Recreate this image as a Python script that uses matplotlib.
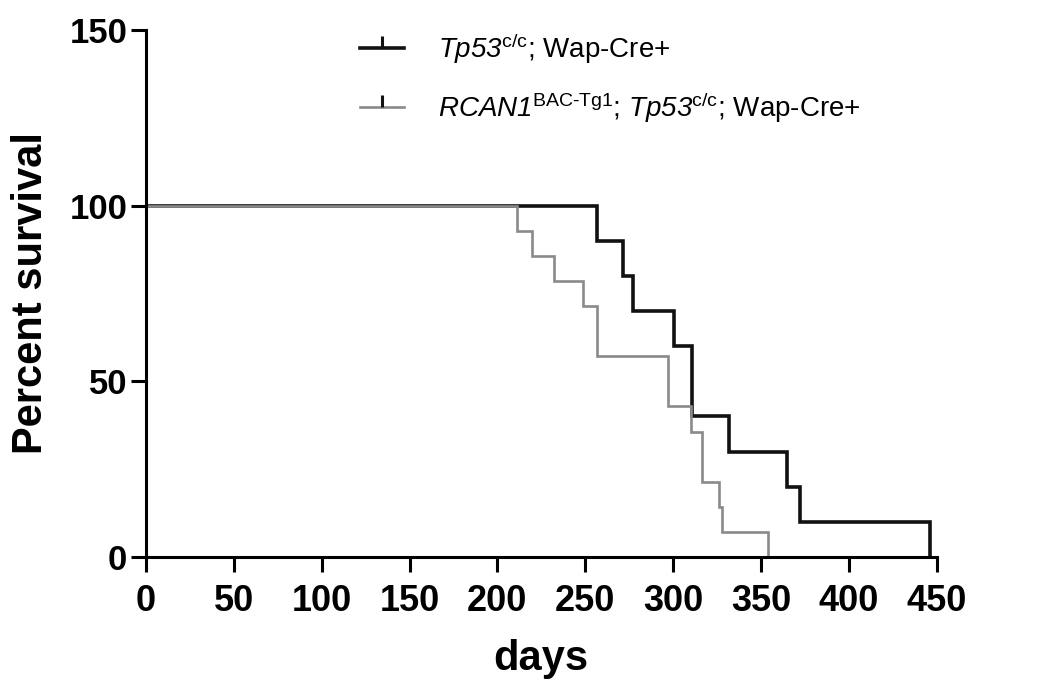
import matplotlib
matplotlib.use("Agg")
import matplotlib.pyplot as plt
from matplotlib.lines import Line2D

# Kaplan-Meier steps
tp53_days = [0, 257, 271.6, 277, 300.7, 311, 332, 365, 372, 446]
tp53_surv = [100, 90, 80, 70, 60, 40, 30, 20, 10, 0]

rcan_days = [0, 211, 220, 232, 249, 257, 297, 310, 316.6, 326, 328, 354]
rcan_surv = [100, 92.9, 85.7, 78.6, 71.4, 57.1, 42.9, 35.7, 21.4, 14.3, 7.1, 0]

x_ticks = [0, 50, 100, 150, 200, 250, 300, 350, 400, 450]
y_ticks = [0, 50, 100, 150]

# \mathsf is mapped to italic below so the digits are slanted too
labels = [r"$\mathsf{Tp53}^{\mathrm{c/c}}$; Wap-Cre+",
          r"$\mathsf{RCAN1}^{\mathrm{BAC\text{-}Tg1}}$; $\mathsf{Tp53}^{\mathrm{c/c}}$; Wap-Cre+"]

plt.rcParams["font.family"] = ["Liberation Sans", "DejaVu Sans"]
plt.rcParams["mathtext.fontset"] = "custom"
plt.rcParams["mathtext.rm"] = "Liberation Sans"
plt.rcParams["mathtext.it"] = "Liberation Sans:italic"
plt.rcParams["mathtext.sf"] = "Liberation Sans:italic"
plt.rcParams["mathtext.bf"] = "Liberation Sans:bold"

black = "#111111"
grey = "#8a8a8a"

fig = plt.figure(figsize=(10.5, 6.89), dpi=100)
ax = fig.add_axes([0.139, 0.1916, 0.753, 0.765])

ax.step(tp53_days, tp53_surv, where="post", color=black, lw=2.6, solid_joinstyle="miter")
ax.step(rcan_days, rcan_surv, where="post", color=grey, lw=1.9, solid_joinstyle="miter")

ax.set_xlim(0, 450)
ax.set_ylim(0, 150)
ax.set_xticks(x_ticks)
ax.set_yticks(y_ticks)
ax.tick_params(direction="out", length=10.5, width=2.2)
ax.tick_params(axis="x", labelsize=26, pad=9)
ax.tick_params(axis="y", labelsize=25, pad=3)
for lab in ax.get_xticklabels() + ax.get_yticklabels():
    lab.set_fontweight("bold")
for side in ["top", "right"]:
    ax.spines[side].set_visible(False)
for side in ["left", "bottom"]:
    ax.spines[side].set_linewidth(2.2)

ax.set_xlabel("days", fontsize=30, fontweight="bold", labelpad=14)
ax.set_ylabel("Percent survival", fontsize=30, fontweight="bold", labelpad=13)

handles = [Line2D([], [], color=black, lw=2.6, marker=2, markersize=9, markeredgewidth=2.2),
           Line2D([], [], color=grey, lw=1.9, marker=2, markersize=9, markeredgewidth=2.2, markeredgecolor=black)]
fig.legend(handles, labels, loc="upper left", bbox_to_anchor=(0.319, 0.991),
           frameon=False, fontsize=20, handlelength=1.6, handletextpad=1.2,
           labelspacing=0.9, numpoints=1)

fig.savefig("out.png", dpi=100)
